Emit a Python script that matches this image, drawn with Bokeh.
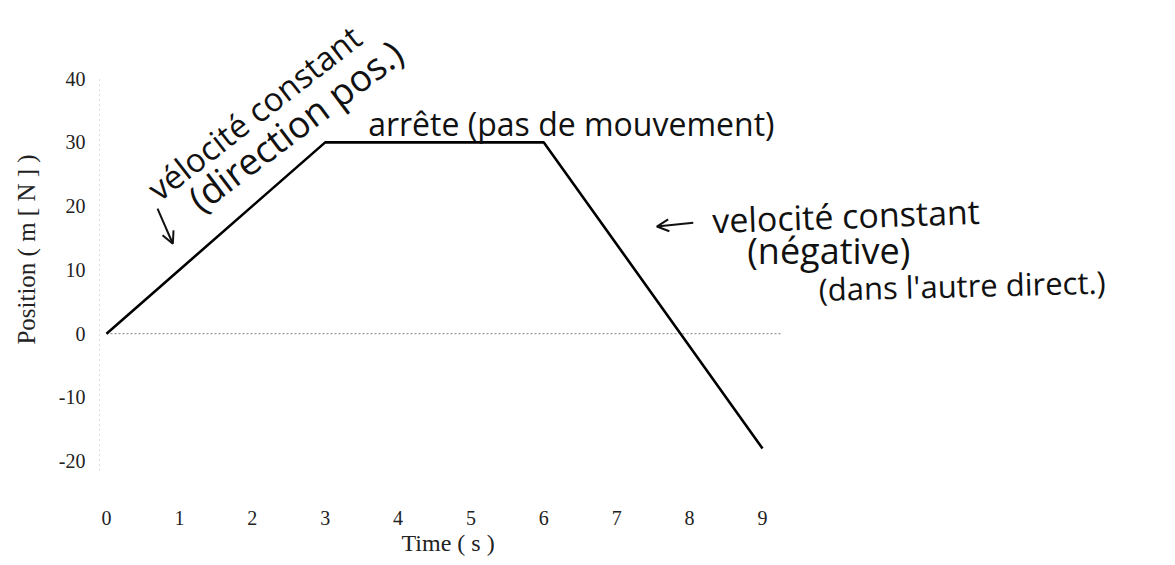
from bokeh.plotting import figure
from bokeh.models import Label, Arrow, OpenHead, FixedTicker, Range1d, ColumnDataSource, Title
from bokeh.embed import file_html
from bokeh.resources import INLINE

# ---- data ----
times = [0, 3, 6, 9]
positions = [0, 30, 30, -18]
x_ticks = [0, 1, 2, 3, 4, 5, 6, 7, 8, 9]
y_ticks = [-20, -10, 0, 10, 20, 30, 40]
y_tick_labels = ["-20", "-10", "0", "10", "20", "30", "40"]
x_label = "Time ( s )"
y_label = "Position ( m [ N ] )"
note_rise_1 = "vélocité constant"
note_rise_2 = "(direction pos.)"
note_stop = "arrête (pas de mouvement)"
note_fall_1 = "velocité constant"
note_fall_2 = "(négative)"
note_fall_3 = "(dans l'autre direct.)"

SERIF = "Liberation Serif"
HAND = "Open Sans"

p = figure(width=1160, height=557, output_backend="svg", toolbar_location=None,
           x_range=Range1d(-0.096, 14.46), y_range=Range1d(-24.6, 51.0),
           min_border_left=99, min_border_right=0, min_border_top=8, min_border_bottom=67)
p.outline_line_color = None
p.grid.visible = False
p.background_fill_color = "white"

# axes
p.xaxis.ticker = FixedTicker(ticks=x_ticks)
p.yaxis.ticker = FixedTicker(ticks=y_ticks)
p.yaxis.major_label_overrides = {t: l for t, l in zip(y_ticks, y_tick_labels)}
for ax in (p.xaxis, p.yaxis):
    ax.major_tick_line_color = None
    ax.minor_tick_line_color = None
    ax.major_label_text_font = SERIF
    ax.major_label_text_font_size = "20px"
    ax.major_label_text_color = "#222222"
    ax.axis_label_text_font = SERIF
    ax.axis_label_text_font_style = "normal"
    ax.axis_label_text_color = "#222222"
p.xaxis.axis_line_color = None
p.xaxis.major_label_standoff = 14
p.yaxis.axis_line_color = "#bbbbbb"
p.yaxis.axis_line_dash = "1 4"
p.yaxis.bounds = (-21.5, 40)
p.yaxis.major_label_standoff = 8
p.yaxis.axis_label = y_label
p.yaxis.axis_label_text_font_size = "25px"
p.yaxis.axis_label_standoff = 16

# x-axis label, placed under the data part of the axis
p.add_layout(Title(text=x_label, align="left", offset=302, standoff=0,
                   text_font=SERIF, text_font_size="24px", text_font_style="normal",
                   text_color="#222222"), "below")

# zero reference line (dotted)
zsrc = ColumnDataSource(dict(x0=[min(times)], x1=[max(times) + 0.25], y0=[0], y1=[0]))
p.segment(x0="x0", y0="y0", x1="x1", y1="y1", source=zsrc,
          line_color="#999999", line_dash="2 2", line_width=1.2)

# position line
p.line(times, positions, line_color="black", line_width=2.6)

# handwritten-style annotations
def note(text, x, y, angle=0, size="30px"):
    p.add_layout(Label(x=x, y=y, text=text, angle=angle, angle_units="deg",
                       text_font=HAND, text_font_size=size, text_color="#111111",
                       text_baseline="alphabetic", text_align="left"))

note(note_rise_1, 0.62, 22.1, angle=38, size="33px")
note(note_rise_2, 1.18, 20.6, angle=37, size="37px")
p.add_layout(Arrow(x_start=0.70, y_start=19.6, x_end=0.91, y_end=14.1,
                   line_width=2, line_color="#111111",
                   end=OpenHead(size=12, line_width=2, line_color="#111111")))
note(note_stop, 3.59, 32.9, angle=0, size="32px")
p.add_layout(Arrow(x_start=8.05, y_start=17.4, x_end=7.55, y_end=16.8,
                   line_width=2, line_color="#111111",
                   end=OpenHead(size=12, line_width=2, line_color="#111111")))
note(note_fall_1, 8.31, 17.8, angle=2, size="34px")
note(note_fall_2, 8.79, 13.1, angle=0, size="36px")
note(note_fall_3, 9.77, 7.0, angle=1.5, size="31px")

open("out.html", "w").write(file_html(p, INLINE))
